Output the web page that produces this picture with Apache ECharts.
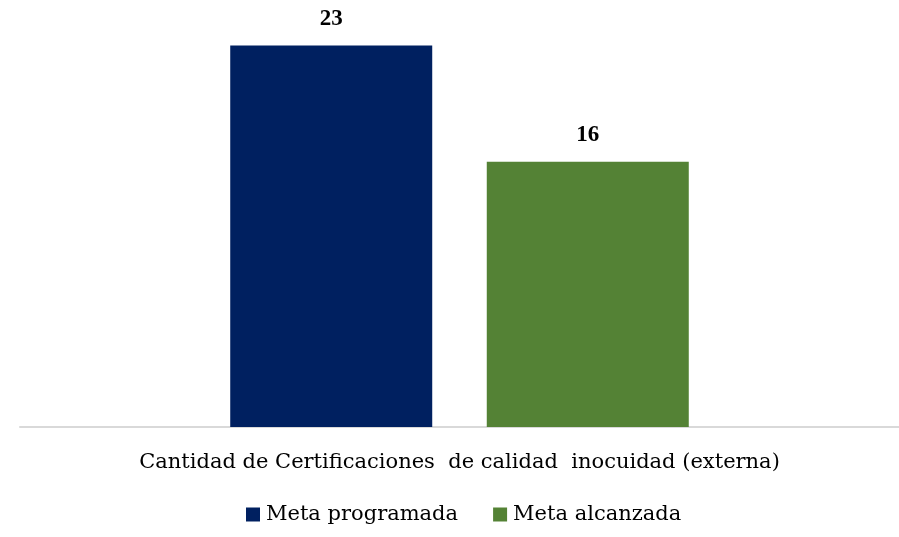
<!DOCTYPE html>
<html>
<head>
<meta charset="utf-8">
<script src="https://cdn.jsdelivr.net/npm/echarts@6/dist/echarts.min.js"></script>
<style>
  html, body { margin: 0; padding: 0; background: #fff; }
  #chart { width: 899px; height: 537px; }
</style>
</head>
<body>
<div id="chart"></div>
<script>
const categories = ['Cantidad de Certificaciones  de calidad  inocuidad (externa)']
const seriesNames = ['Meta programada', 'Meta alcanzada']
const programada = [23]
const alcanzada = [16]

const font = '"DejaVu Serif", "Liberation Serif", serif'
const labelFont = '"Liberation Serif", serif'
const chart = echarts.init(document.getElementById('chart'))

const valueLabel = {
  show: true,
  position: 'top',
  distance: 15,
  fontFamily: labelFont,
  fontSize: 23,
  fontWeight: 'bold',
  color: '#000'
}

chart.setOption({
  animation: false,
  textStyle: { fontFamily: font },
  grid: { left: 20, right: 0, top: 29, bottom: 110 },
  legend: {
    data: seriesNames,
    bottom: 7,
    left: 241,
    icon: 'rect',
    itemWidth: 14,
    itemHeight: 14,
    itemGap: 35,
    textStyle: { fontFamily: font, fontSize: 21, color: '#000', padding: [0, 0, 0, 1] }
  },
  xAxis: {
    type: 'category',
    data: categories,
    axisLine: { lineStyle: { color: '#d9d9d9', width: 2 } },
    axisTick: { show: false },
    axisLabel: { fontFamily: font, fontSize: 21, color: '#000', margin: 25 }
  },
  yAxis: {
    type: 'value',
    min: 0,
    max: 24,
    show: false,
    splitLine: { show: false }
  },
  series: [
    {
      name: seriesNames[0],
      type: 'bar',
      data: programada,
      barWidth: 202,
      barGap: '27%',
      itemStyle: { color: '#002060' },
      label: valueLabel
    },
    {
      name: seriesNames[1],
      type: 'bar',
      data: alcanzada,
      barWidth: 202,
      itemStyle: { color: '#548235' },
      label: valueLabel
    }
  ]
})
</script>
</body>
</html>
